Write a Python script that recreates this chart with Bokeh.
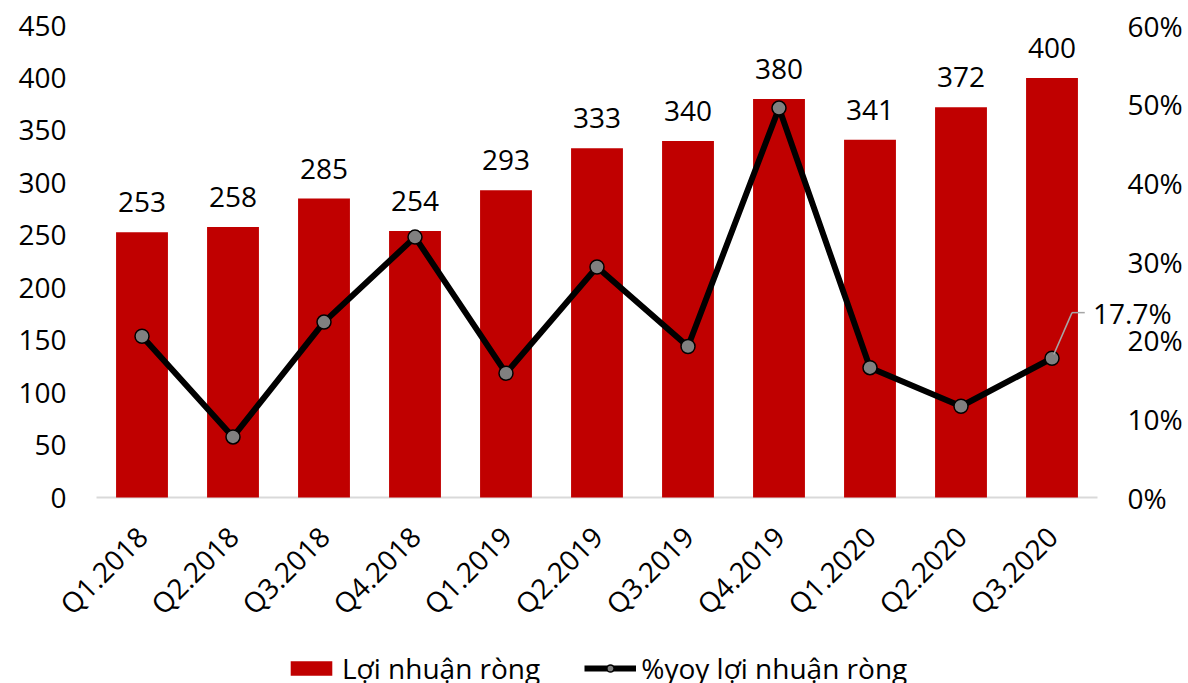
from math import pi
from bokeh.plotting import figure
from bokeh.models import (ColumnDataSource, FactorRange, Range1d, LinearAxis,
                          FixedTicker, NumeralTickFormatter, Legend, LegendItem,
                          LabelSet)
from bokeh.core.properties import value
from bokeh.embed import file_html
from bokeh.resources import INLINE

quarters = ["Q1.2018", "Q2.2018", "Q3.2018", "Q4.2018", "Q1.2019", "Q2.2019",
            "Q3.2019", "Q4.2019", "Q1.2020", "Q2.2020", "Q3.2020"]
profit = [253, 258, 285, 254, 293, 333, 340, 380, 341, 372, 400]
yoy = [0.205, 0.077, 0.223, 0.331, 0.158, 0.293, 0.192, 0.495, 0.165, 0.116, 0.177]
left_ticks = [0, 50, 100, 150, 200, 250, 300, 350, 400, 450]
right_ticks = [0, 0.1, 0.2, 0.3, 0.4, 0.5, 0.6]
left_max = 450
right_max = 0.6

FONT = "Open Sans"
RED = "#C00000"

# plot geometry (pixels)
PLOT_H = 472      # height between 0 and the top tick
PAD_TOP = 25      # room above the top tick inside the frame
PAD_BOT = 186     # room below the zero line (category labels and legend)
SLOT = 91         # width of one quarter slot

k_left = PLOT_H / left_max
k_right = PLOT_H / right_max

src = ColumnDataSource(dict(q=quarters, profit=profit, yoy=yoy,
                            lbl=[str(v) for v in profit]))

# blank slots on both sides hold the axis labels and the end label
factors = ["  "] + quarters + [" "]
p = figure(frame_width=SLOT * len(factors), frame_height=PLOT_H + PAD_TOP + PAD_BOT,
           x_range=FactorRange(*factors, range_padding=0),
           y_range=Range1d(-PAD_BOT / k_left, left_max + PAD_TOP / k_left),
           output_backend="svg", toolbar_location=None,
           min_border_left=5, min_border_right=0, min_border_top=0,
           min_border_bottom=0)
p.extra_y_ranges = {"pct": Range1d(-PAD_BOT / k_right, right_max + PAD_TOP / k_right)}
p.outline_line_color = None
p.xgrid.visible = False
p.ygrid.visible = False

# baseline under the bars
p.segment(x0=[(quarters[0], -0.5)], x1=[(quarters[-1], 0.5)], y0=[0], y1=[0],
          line_color="#D9D9D9", line_width=2)

bars = p.vbar(x="q", top="profit", width=0.57, source=src, fill_color=RED,
              line_color=None)
p.text(x="q", y="profit", text="lbl", source=src, text_align="center",
       text_baseline="bottom", y_offset=-20, text_font=value(FONT),
       text_font_size="28px", text_color="#000000")

ln = p.line(x="q", y="yoy", source=src, y_range_name="pct", line_color="#000000",
            line_width=6)
mk = p.scatter(x="q", y="yoy", source=src, y_range_name="pct", size=14,
               fill_color="#808080", line_color="#000000", line_width=1.5)

# label for last yoy point with leader line
last_q = quarters[-1]
last_v = yoy[-1]
rise = 0.058
p.segment(x0=[(last_q, 0.02)], y0=[last_v + 0.005], x1=[(last_q, 0.22)],
          y1=[last_v + rise], y_range_name="pct", line_color="#A6A6A6", line_width=1.5)
p.segment(x0=[(last_q, 0.22)], y0=[last_v + rise], x1=[(last_q, 0.36)],
          y1=[last_v + rise], y_range_name="pct", line_color="#A6A6A6", line_width=1.5)
lsrc = ColumnDataSource(dict(q=[last_q], y=[last_v + rise], t=[f"{last_v*100:.1f}%"]))
p.add_layout(LabelSet(x="q", y="y", text="t", source=lsrc, y_range_name="pct",
                      x_offset=41, text_align="left", text_baseline="middle",
                      text_font=value(FONT), text_font_size="28px",
                      text_color="#000000"))

# left axis, pinned at the start of the first quarter slot
ya = p.yaxis[0]
ya.fixed_location = 1.0
ya.ticker = FixedTicker(ticks=left_ticks)
ya.axis_line_color = None
ya.major_tick_line_color = None
ya.minor_tick_line_color = None
ya.major_label_text_font = FONT
ya.major_label_text_font_size = "28px"
ya.major_label_text_color = "#000000"
ya.major_label_standoff = 24

# right axis, pinned just right of the last quarter slot
ra = LinearAxis(y_range_name="pct", ticker=FixedTicker(ticks=right_ticks),
                formatter=NumeralTickFormatter(format="0%"),
                fixed_location=len(quarters) + 1 + 0.22)
ra.axis_line_color = None
ra.major_tick_line_color = None
ra.minor_tick_line_color = None
ra.major_label_text_font = FONT
ra.major_label_text_font_size = "28px"
ra.major_label_text_color = "#000000"
ra.major_label_standoff = 4
p.add_layout(ra, "right")

# bottom axis, pinned at the zero line
xa = p.xaxis[0]
xa.fixed_location = 0
xa.axis_line_color = None
xa.major_tick_line_color = None
xa.minor_tick_line_color = None
xa.major_label_orientation = pi / 4
xa.major_label_text_font = FONT
xa.major_label_text_font_size = "28px"
xa.major_label_text_color = "#000000"
xa.major_label_standoff = 28

legend = Legend(items=[LegendItem(label="Lợi nhuận ròng", renderers=[bars]),
                       LegendItem(label="%yoy lợi nhuận ròng", renderers=[ln, mk])],
                location=(280, -4), orientation="horizontal",
                glyph_width=52, glyph_height=18, label_standoff=5, spacing=44,
                padding=0, margin=0, border_line_color=None,
                background_fill_alpha=0, label_text_font=FONT,
                label_text_font_size="28px", label_text_color="#000000")
p.add_layout(legend, "center")

open("out.html", "w").write(file_html(p, INLINE))
